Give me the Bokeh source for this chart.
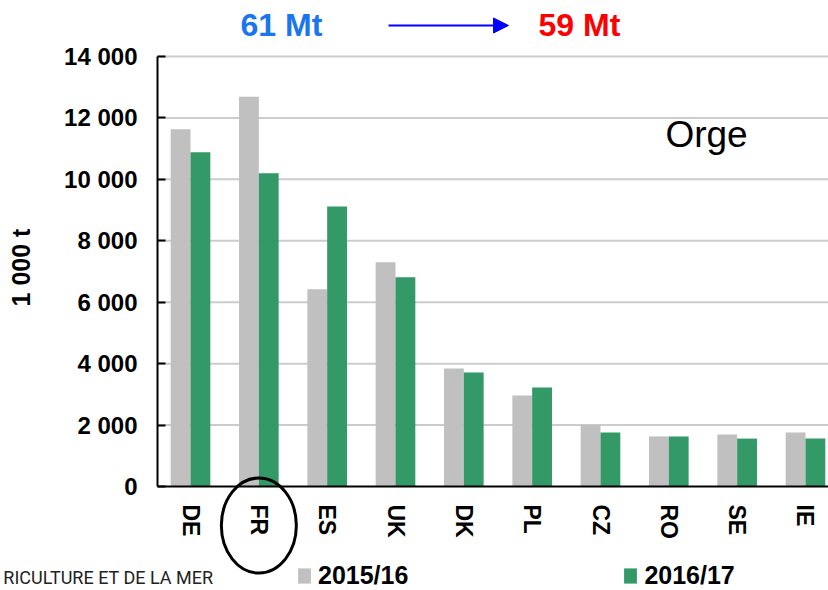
import math
from bokeh.plotting import figure
from bokeh.models import (ColumnDataSource, Range1d, FixedTicker, Label,
                          Arrow, NormalHead, LinearAxis)
from bokeh.transform import dodge
from bokeh.core.properties import value
from bokeh.embed import file_html
from bokeh.resources import INLINE

# ---- data ----
countries = ["DE", "FR", "ES", "UK", "DK", "PL", "CZ", "RO", "SE", "IE"]
prod_2015_16 = [11630, 12690, 6420, 7300, 3840, 2960, 2010, 1630, 1690, 1760]
prod_2016_17 = [10880, 10200, 9120, 6810, 3710, 3220, 1760, 1630, 1560, 1560]
series_names = ["2015/16", "2016/17"]
y_ticks = [0, 2000, 4000, 6000, 8000, 10000, 12000, 14000]
y_tick_labels = ["0", "2 000", "4 000", "6 000", "8 000", "10 000", "12 000", "14 000"]
total_before = "61 Mt"
total_after = "59 Mt"
crop_name = "Orge"
highlight = "FR"
y_unit = "1 000 t"
source_note = "RICULTURE ET DE LA MER"

FONT = "Liberation Sans"
GRAY = "#C0C0C0"
GREEN = "#339966"

# ---- layout constants (in data units of the canvas-filling frame) ----
X_START, X_END = -2.781, 9.337
Y_START, Y_END = -3386, 15823
AXIS_X = -0.483

idx = list(range(len(countries)))
src = ColumnDataSource(dict(idx=idx, country=countries,
                            a=prod_2015_16, b=prod_2016_17))

p = figure(width=828, height=590, output_backend="svg", toolbar_location=None,
           x_range=Range1d(X_START, X_END), y_range=Range1d(Y_START, Y_END),
           x_axis_type=None, y_axis_type=None,
           min_border_left=0, min_border_right=0, min_border_top=0,
           min_border_bottom=0, outline_line_color=None)

# horizontal grid lines (from the y axis to the right edge)
grid_ticks = y_ticks[1:]
p.segment(x0=[AXIS_X] * len(grid_ticks), x1=[X_END] * len(grid_ticks),
          y0=grid_ticks, y1=grid_ticks, line_color="#cccccc", line_width=2)

# bars
p.vbar(x=dodge("idx", -0.145, range=p.x_range), top="a", width=0.29, source=src,
       fill_color=GRAY, line_color=None, legend_label=series_names[0])
p.vbar(x=dodge("idx", 0.145, range=p.x_range), top="b", width=0.29, source=src,
       fill_color=GREEN, line_color=None, legend_label=series_names[1])

# y axis drawn inside the frame
yax = LinearAxis(fixed_location=AXIS_X, ticker=FixedTicker(ticks=y_ticks),
                 major_label_overrides=dict(zip(y_ticks, y_tick_labels)),
                 bounds=(y_ticks[0], y_ticks[-1]))
yax.axis_line_color = "black"
yax.axis_line_width = 2
yax.major_tick_in = 8
yax.major_tick_out = 0
yax.major_tick_line_width = 2
yax.minor_tick_line_color = None
yax.major_label_standoff = 20
yax.major_label_text_font = FONT
yax.major_label_text_font_style = "bold"
yax.major_label_text_font_size = "24px"
yax.major_label_text_color = "black"
p.add_layout(yax, "left")

# x axis drawn at y = 0
xax = LinearAxis(fixed_location=0, ticker=FixedTicker(ticks=idx),
                 major_label_overrides=dict(zip(idx, countries)),
                 bounds=(AXIS_X, X_END))
xax.axis_line_color = "black"
xax.axis_line_width = 2
xax.major_tick_line_color = None
xax.major_tick_in = 0
xax.major_tick_out = 0
xax.minor_tick_line_color = None
xax.major_label_orientation = "vertical"
xax.major_label_standoff = 18
xax.major_label_text_font = FONT
xax.major_label_text_font_style = "bold"
xax.major_label_text_font_size = "23px"
xax.major_label_text_color = "black"
p.add_layout(xax, "below")

# highlight ellipse around FR
p.ellipse(x=countries.index(highlight), y=-1270, width=75, height=95,
          width_units="screen", height_units="screen",
          fill_color=None, line_color="black", line_width=3)

# header totals and arrow
p.add_layout(Label(x=0.732, y=15010, text=total_before, text_font=FONT,
                   text_font_style="bold", text_font_size="32px",
                   text_color="#1a75f0", text_baseline="middle"))
p.add_layout(Label(x=5.093, y=15010, text=total_after, text_font=FONT,
                   text_font_style="bold", text_font_size="32px",
                   text_color="#ff0000", text_baseline="middle"))
p.add_layout(Arrow(x_start=2.898, y_start=15010, x_end=4.654, y_end=15010,
                   line_color="#0000ff", line_width=2,
                   end=NormalHead(size=15, fill_color="#0000ff", line_color="#0000ff")))

# crop name
p.add_layout(Label(x=6.95, y=11461, text=crop_name, text_font=FONT,
                   text_font_size="37px", text_color="black",
                   text_baseline="middle"))

# y unit label
p.add_layout(Label(x=-2.475, y=7131, text=y_unit, angle=math.pi / 2,
                   text_align="center", text_baseline="middle", text_font=FONT,
                   text_font_style="bold", text_font_size="25px", text_color="black"))

# cut-off source note
p.add_layout(Label(x=-2.74, y=-2963, text=source_note, text_font="Roboto",
                   text_font_size="18px", text_color="#222222",
                   text_baseline="middle"))

# legend
lg = p.legend[0]
lg.orientation = "horizontal"
lg.location = (296, 0)
lg.padding = 0
lg.margin = 0
lg.spacing = 214
lg.border_line_color = None
lg.background_fill_alpha = 0
lg.glyph_width = 16
lg.glyph_height = 19
lg.label_standoff = 6
lg.label_text_font = FONT
lg.label_text_font_style = "bold"
lg.label_text_font_size = "25px"
lg.label_text_color = "black"

open("out.html", "w").write(file_html(p, INLINE))
